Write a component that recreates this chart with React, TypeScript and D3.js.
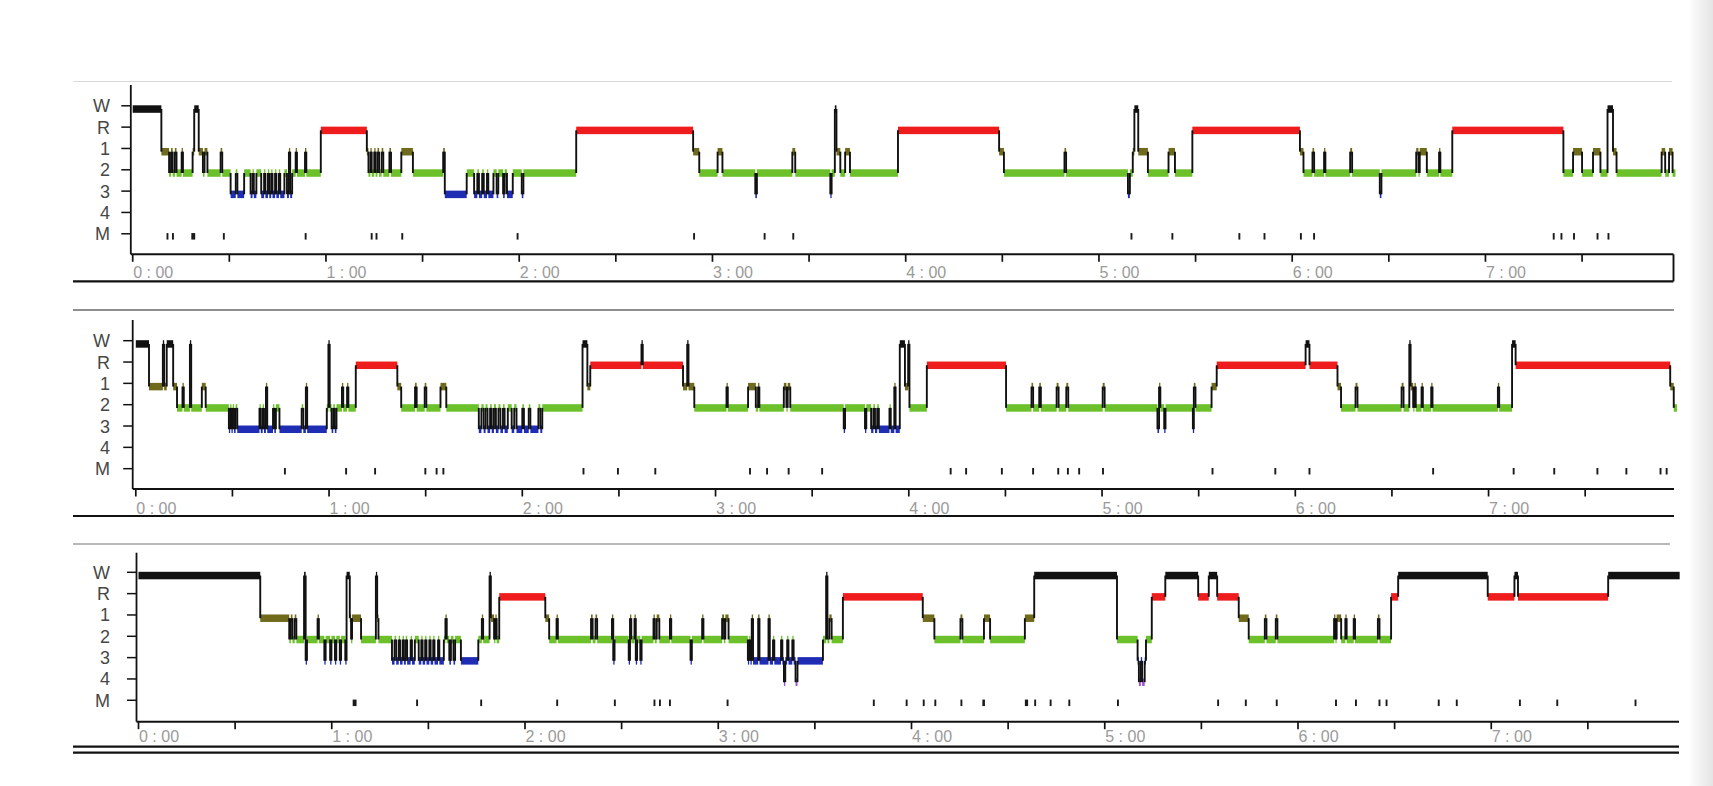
import React from "react";
import * as d3 from "d3";

type Pt = [number, string];
type Mv = [number, number];

const STAGE_LABELS = ["W", "R", "1", "2", "3", "4", "M"];
const STAGE_COLORS: Record<string, string> = {
  W: "#111111",
  R: "#ee1c1c",
  "1": "#6f6a1c",
  "2": "#6cc12a",
  "3": "#1e2db4",
  "4": "#9a4fd6",
};
const TICK_MINUTES = [0, 30, 60, 90, 120, 150, 180, 210, 240, 270, 300, 330, 360, 390, 420, 450, 480];
const HOUR_MINUTES = [0, 60, 120, 180, 240, 300, 360, 420];
const HOUR_LABELS = ["0 : 00", "1 : 00", "2 : 00", "3 : 00", "4 : 00", "5 : 00", "6 : 00", "7 : 00"];

// ---- Night 1 ----
const hypno1: Pt[] = [
  [0, "W"], [8.9, "1"], [11.3, "2"], [11.9, "1"], [12.4, "2"], [13.1, "1"], [13.6, "2"], [15.2, "1"], [15.6, "2"],
  [18.6, "1"], [19.1, "W"], [20.5, "1"], [21.8, "2"], [22.3, "1"], [23.2, "2"], [27.3, "1"], [27.8, "2"],
  [30.4, "3"], [32.0, "2"], [32.5, "3"], [34.6, "2"], [36.6, "3"], [37.2, "2"], [37.6, "3"], [38.4, "2"],
  [39.9, "3"], [40.8, "2"], [41.2, "3"], [42.0, "2"], [42.4, "3"], [43.0, "2"], [43.4, "3"], [44.2, "2"],
  [44.6, "3"], [45.4, "2"], [45.8, "3"], [47.1, "2"], [47.9, "3"], [48.5, "1"], [48.9, "3"], [49.5, "2"],
  [50.6, "1"], [51.0, "2"], [53.5, "1"], [53.9, "2"], [58.4, "R"], [72.7, "1"], [73.2, "2"], [73.8, "1"],
  [74.2, "2"], [75.0, "1"], [75.4, "2"], [76.0, "1"], [76.5, "2"], [77.3, "1"], [77.8, "2"], [79.7, "1"],
  [80.2, "2"], [83.4, "1"], [87.0, "2"], [96.4, "1"], [96.9, "3"], [103.7, "2"], [106.0, "3"], [107.0, "2"],
  [107.5, "3"], [108.5, "2"], [109.0, "3"], [110.0, "2"], [110.4, "3"], [112.0, "2"], [113.0, "3"], [113.5, "2"],
  [115.0, "3"], [115.5, "2"], [116.2, "3"], [118.0, "2"], [120.8, "3"], [121.3, "2"], [137.7, "R"], [174.0, "1"],
  [175.9, "2"], [181.6, "1"], [183.1, "2"], [193.3, "3"], [193.8, "2"], [204.8, "1"], [205.7, "2"], [216.6, "3"],
  [217.0, "2"], [218.0, "W"], [218.5, "1"], [219.7, "2"], [221.2, "1"], [222.7, "2"], [237.6, "R"], [269.0, "1"],
  [270.5, "2"], [289.3, "1"], [289.8, "2"], [309.0, "3"], [309.6, "2"], [310.5, "1"], [311.0, "W"], [312.2, "1"],
  [315.2, "2"], [321.6, "1"], [323.6, "2"], [329.0, "R"], [362.4, "1"], [363.5, "2"], [366.3, "1"], [366.8, "2"],
  [369.9, "1"], [370.3, "2"], [378.0, "1"], [378.6, "2"], [387.2, "3"], [387.7, "2"], [398.5, "1"], [399.2, "2"],
  [399.6, "1"], [401.8, "2"], [405.6, "1"], [406.0, "2"], [409.7, "R"], [444.2, "2"], [447.2, "1"], [450.0, "2"],
  [453.4, "1"], [455.7, "2"], [457.9, "W"], [459.6, "1"], [460.7, "2"], [474.7, "1"], [475.8, "2"], [477.0, "1"],
  [478.1, "2"],
];
const end1 = 479;
const moves1: Mv[] = [
  [10.5, 0.4], [12.2, 0.4], [18.2, 1.2], [28, 0.4], [53.4, 0.4], [73.9, 0.5], [75.4, 0.5], [83.4, 0.4],
  [119.2, 0.4], [174, 0.4], [195.9, 0.4], [204.8, 0.4], [309.8, 0.4], [322.5, 0.4], [343.3, 0.4], [351.1, 0.4],
  [362.4, 0.4], [366.5, 0.4], [440.9, 0.4], [443.3, 0.4], [447.2, 0.4], [454.5, 0.4], [457.9, 0.4],
];

// ---- Night 2 ----
const hypno2: Pt[] = [
  [0, "W"], [4.1, "1"], [8.4, "W"], [8.8, "1"], [9.6, "W"], [11.6, "1"], [12.8, "2"], [14.5, "1"], [14.9, "2"],
  [16.8, "W"], [17.2, "2"], [20.5, "1"], [21.7, "2"], [28.9, "3"], [29.3, "2"], [29.7, "3"], [30.1, "2"],
  [30.5, "3"], [31.0, "2"], [31.5, "3"], [38.4, "2"], [38.8, "3"], [39.4, "2"], [39.8, "3"], [40.4, "1"],
  [40.8, "3"], [42.6, "2"], [43.0, "3"], [43.5, "2"], [44.6, "3"], [51.5, "2"], [52.0, "3"], [52.8, "1"],
  [53.2, "3"], [59.3, "2"], [59.8, "W"], [60.2, "2"], [60.8, "3"], [61.3, "2"], [61.8, "3"], [62.3, "2"],
  [64.0, "1"], [64.4, "2"], [65.6, "1"], [66.0, "2"], [68.3, "R"], [81.2, "1"], [82.4, "2"], [86.7, "1"],
  [87.2, "2"], [89.7, "1"], [90.2, "2"], [94.6, "1"], [96.4, "2"], [106.5, "3"], [107.3, "2"], [108.0, "3"],
  [108.6, "2"], [109.2, "3"], [110.0, "2"], [110.5, "3"], [111.2, "2"], [111.8, "3"], [112.6, "2"], [113.2, "3"],
  [114.0, "2"], [114.5, "3"], [115.5, "2"], [116.7, "3"], [117.5, "2"], [118.2, "3"], [120.0, "2"], [120.5, "3"],
  [122.0, "2"], [122.5, "3"], [125.0, "2"], [125.6, "3"], [126.2, "2"], [138.7, "W"], [140.2, "1"], [141.1, "R"],
  [157.0, "W"], [157.4, "R"], [169.9, "1"], [171.2, "W"], [171.6, "1"], [173.4, "2"], [183.4, "1"], [183.8, "2"],
  [190.1, "1"], [192.5, "2"], [193.2, "1"], [193.6, "2"], [201.2, "1"], [202.0, "2"], [202.4, "1"], [203.2, "2"],
  [219.8, "3"], [220.2, "2"], [226.4, "3"], [226.8, "2"], [228.3, "3"], [229.0, "2"], [229.5, "3"], [230.2, "2"],
  [230.7, "3"], [234.0, "2"], [234.4, "3"], [235.5, "1"], [235.9, "3"], [237.2, "W"], [238.8, "1"], [239.8, "W"],
  [240.2, "2"], [245.6, "R"], [270.2, "2"], [278.1, "1"], [278.6, "2"], [280.5, "1"], [281.0, "2"], [285.9, "1"],
  [286.5, "2"], [288.9, "1"], [289.5, "2"], [300.2, "1"], [300.8, "2"], [317.2, "3"], [317.7, "1"], [318.1, "2"],
  [319.3, "3"], [319.7, "2"], [328.2, "3"], [328.5, "1"], [329.0, "2"], [334.0, "1"], [335.6, "R"], [363.2, "W"],
  [364.4, "R"], [373.1, "1"], [374.2, "2"], [378.7, "1"], [379.3, "2"], [393.0, "1"], [393.6, "2"], [395.4, "W"],
  [395.8, "1"], [396.6, "2"], [397.0, "1"], [397.4, "2"], [399.2, "1"], [399.6, "2"], [402.2, "1"], [402.6, "2"],
  [422.9, "1"], [423.3, "2"], [427.3, "W"], [428.4, "R"], [476.4, "1"], [477.5, "2"],
];
const end2 = 478.5;
const moves2: Mv[] = [
  [46, 0.4], [65, 0.4], [74, 0.4], [89.6, 0.4], [93.1, 0.4], [95.2, 0.4], [138.7, 0.4], [149.4, 0.4], [161, 0.4],
  [190.4, 0.4], [195.7, 0.4], [202.4, 0.4], [212.8, 0.4], [252.7, 0.4], [257.5, 0.4], [268.6, 0.4], [278.3, 0.4],
  [286.1, 0.4], [289.1, 0.4], [292.6, 0.4], [300, 0.4], [334, 0.4], [353.5, 0.4], [364.1, 0.4], [402.5, 0.4],
  [427.5, 0.4], [440.1, 0.4], [453.5, 0.4], [462.5, 0.4], [473.1, 0.4], [475, 0.4],
];

// ---- Night 3 ----
const hypno3: Pt[] = [
  [0, "W"], [37.8, "1"], [46.8, "2"], [47.3, "1"], [47.8, "2"], [48.5, "1"], [49.0, "2"], [51.4, "W"], [51.9, "3"],
  [52.3, "2"], [55.6, "1"], [56.0, "2"], [57.7, "3"], [58.1, "2"], [59.5, "3"], [59.9, "2"], [61.0, "3"], [61.4, "2"],
  [62.5, "3"], [62.9, "2"], [64.2, "3"], [64.6, "W"], [65.6, "1"], [66.0, "2"], [66.3, "1"], [69.1, "2"], [73.7, "W"],
  [74.1, "1"], [74.5, "2"], [78.7, "3"], [79.5, "2"], [80.0, "3"], [80.8, "2"], [81.2, "3"], [82.0, "2"], [82.4, "3"],
  [83.0, "2"], [83.4, "3"], [84.5, "2"], [84.9, "3"], [85.8, "2"], [87.0, "3"], [87.8, "2"], [88.2, "3"], [89.0, "2"],
  [89.4, "3"], [90.3, "2"], [90.7, "3"], [91.5, "2"], [91.9, "3"], [93.0, "2"], [93.4, "3"], [94.8, "2"], [95.3, "1"],
  [95.7, "2"], [96.5, "3"], [97.0, "2"], [97.8, "3"], [98.3, "2"], [100.1, "3"], [105.5, "2"], [106.6, "1"], [107.0, "2"],
  [109.0, "W"], [109.4, "1"], [110.4, "2"], [110.8, "1"], [111.2, "2"], [112.0, "R"], [126.3, "1"], [127.5, "2"],
  [129.8, "1"], [130.2, "2"], [140.5, "1"], [141.0, "2"], [141.9, "1"], [142.4, "2"], [147.0, "1"], [147.4, "3"],
  [147.8, "2"], [152.2, "3"], [152.6, "1"], [153.0, "2"], [154.0, "1"], [154.4, "3"], [154.8, "2"], [155.8, "3"],
  [156.2, "2"], [159.9, "1"], [160.3, "2"], [160.9, "1"], [161.7, "2"], [165.0, "1"], [165.4, "2"], [171.4, "3"],
  [171.8, "2"], [175.0, "1"], [175.4, "2"], [181.2, "1"], [181.8, "2"], [182.2, "1"], [183.2, "2"], [189.2, "3"],
  [189.6, "2"], [190.0, "3"], [190.4, "1"], [190.8, "3"], [192.4, "1"], [192.8, "3"], [195.6, "1"], [196.0, "3"],
  [197.0, "2"], [197.4, "3"], [199.5, "2"], [199.9, "3"], [200.4, "4"], [200.8, "3"], [201.4, "2"], [201.8, "3"],
  [203.0, "2"], [203.4, "3"], [204.0, "4"], [204.6, "3"], [212.5, "2"], [213.5, "W"], [213.9, "2"], [214.5, "1"],
  [215.2, "2"], [218.7, "R"], [243.5, "1"], [247.1, "2"], [255.2, "1"], [255.8, "2"], [262.5, "1"], [264.4, "2"],
  [275.2, "1"], [278.1, "W"], [303.8, "2"], [310.2, "3"], [310.6, "4"], [311.2, "3"], [311.6, "4"], [312.4, "3"],
  [312.8, "2"], [314.6, "R"], [318.8, "W"], [329.0, "R"], [332.3, "W"], [334.9, "R"], [341.6, "1"], [344.7, "2"],
  [349.7, "1"], [350.2, "2"], [353.1, "1"], [353.6, "2"], [371.2, "1"], [371.6, "2"], [372.0, "1"], [373.4, "2"],
  [374.7, "1"], [375.1, "2"], [377.3, "1"], [377.7, "2"], [384.8, "1"], [385.3, "2"], [388.9, "R"], [391.1, "W"],
  [418.9, "R"], [427.2, "W"], [428.3, "R"], [456.3, "W"],
];
const end3 = 478.5;
const moves3: Mv[] = [
  [66.5, 1.2], [86.2, 0.4], [106.1, 0.4], [129.7, 0.4], [147.6, 0.4], [159.9, 0.4], [161.6, 0.4], [164.7, 0.4],
  [182.6, 0.4], [228, 0.4], [238.2, 0.4], [243.5, 0.4], [247.1, 0.4], [255.2, 0.4], [262, 0.8], [275.2, 1.0],
  [278.1, 0.4], [282.9, 0.4], [288.7, 0.4], [303.8, 0.4], [334.9, 0.4], [343.5, 0.4], [353.1, 0.4], [371.5, 0.4],
  [377.7, 0.4], [385, 0.4], [387.2, 0.4], [403.4, 0.4], [409, 0.4], [428.6, 0.4], [440.2, 0.4], [464.5, 0.4],
];

const NIGHTS = [
  { hyp: hypno1, end: end1, moves: moves1 },
  { hyp: hypno2, end: end2, moves: moves2 },
  { hyp: hypno3, end: end3, moves: moves3 },
];

const GEOM = [
  { x0: 132.7, axisX: 130.8, yW: 105.8, axisY: 254.3, yTop: 85, labelY: 278.3, xEnd: 1673.5,
    top: { y: 81.5, x1: 73, x2: 1672, stroke: "#dadada", w: 1 }, bottoms: [281.3], box: true },
  { x0: 135.8, axisX: 132.7, yW: 340.7, axisY: 489, yTop: 320, labelY: 513.5, xEnd: 1674,
    top: { y: 310, x1: 73, x2: 1674, stroke: "#8e8e8e", w: 2 }, bottoms: [516], box: false },
  { x0: 138.5, axisX: 136.5, yW: 572.3, axisY: 721.7, yTop: 552.7, labelY: 742, xEnd: 1679,
    top: { y: 544, x1: 73, x2: 1670, stroke: "#a0a0a0", w: 1.5 }, bottoms: [746.7, 752.7], box: false },
];

const ROW = 21.33;
const WIDTH = 1713;
const HEIGHT = 786;
const FONT = "'Liberation Sans', Arial, sans-serif";

function Panel({ night, g }: { night: typeof NIGHTS[number]; g: typeof GEOM[number] }) {
  const x = d3.scaleLinear().domain([0, 480]).range([g.x0, g.x0 + 1546]);
  const y = d3.scalePoint<string>().domain(STAGE_LABELS).range([g.yW, g.yW + ROW * 6]);
  const segs = night.hyp.map((p, i) => ({
    start: p[0],
    end: i < night.hyp.length - 1 ? night.hyp[i + 1][0] : night.end,
    stage: p[1],
  }));
  const barTop = (s: string) => (y(s) as number) - 0.5;
  const barMid = (s: string) => (y(s) as number) + 3.2;
  return (
    <g>
      <line x1={g.top.x1} x2={g.top.x2} y1={g.top.y} y2={g.top.y} stroke={g.top.stroke} strokeWidth={g.top.w} />
      {/* y axis */}
      <line x1={g.axisX} x2={g.axisX} y1={g.yTop} y2={g.axisY} stroke="#111" strokeWidth={1.8} />
      {STAGE_LABELS.map((s) => (
        <g key={s}>
          <line x1={g.axisX - 9.5} x2={g.axisX} y1={y(s)} y2={y(s)} stroke="#111" strokeWidth={1.5} />
          <text x={110} y={(y(s) as number) + 6.5} textAnchor="end" fontSize={18}
            fontFamily={FONT} fill="#474747">{s}</text>
        </g>
      ))}
      {/* x axis */}
      <line x1={g.axisX} x2={g.xEnd} y1={g.axisY} y2={g.axisY} stroke="#111" strokeWidth={1.9} />
      {TICK_MINUTES.filter((m) => x(m) <= g.xEnd).map((m) => (
        <line key={m} x1={x(m)} x2={x(m)} y1={g.axisY} y2={g.axisY + 7.5} stroke="#111" strokeWidth={1.7} />
      ))}
      {HOUR_MINUTES.map((m, i) => (
        <text key={m} x={x(m) + 0.5} y={g.labelY} fontSize={16}
          fontFamily={FONT} fill="#9a9a9a">{HOUR_LABELS[i]}</text>
      ))}
      {g.bottoms.map((b, i) => (
        <line key={i} x1={73} x2={g.xEnd} y1={b} y2={b} stroke="#111" strokeWidth={2.2} />
      ))}
      {g.box && (
        <line x1={g.xEnd} x2={g.xEnd} y1={g.axisY} y2={g.bottoms[0]} stroke="#111" strokeWidth={1.9} />
      )}
      {/* stage bars */}
      {segs.map((s, i) => (
        <rect key={"b" + i} x={x(s.start)} width={Math.max(1.3, x(s.end) - x(s.start))}
          y={barTop(s.stage)} height={7.5} fill={STAGE_COLORS[s.stage]} />
      ))}
      {/* transitions */}
      {segs.slice(1).map((s, i) => (
        <line key={"t" + i} x1={x(s.start)} x2={x(s.start)} y1={barMid(segs[i].stage)} y2={barMid(s.stage)}
          stroke="#111" strokeWidth={1.9} />
      ))}
      {/* movement markers */}
      {night.moves.map((m, i) => (
        <rect key={"m" + i} x={x(m[0])} width={Math.max(1.9, x(m[0] + m[1]) - x(m[0]))}
          y={(y("M") as number) - 0.7} height={6.5} fill="#1a1a1a" />
      ))}
    </g>
  );
}

export default function App() {
  return (
    <div style={{ position: "fixed", left: 0, top: 0, width: WIDTH, height: HEIGHT, background: "#fff" }}>
      <svg width={WIDTH} height={HEIGHT} viewBox={`0 0 ${WIDTH} ${HEIGHT}`}>
        <defs>
          <linearGradient id="edge" x1="0" x2="1" y1="0" y2="0">
            <stop offset="0" stopColor="#ffffff" />
            <stop offset="1" stopColor="#e4e4e4" />
          </linearGradient>
        </defs>
        <rect x={0} y={0} width={WIDTH} height={HEIGHT} fill="#fff" />
        <rect x={1688} y={0} width={25} height={HEIGHT} fill="url(#edge)" />
        {NIGHTS.map((n, i) => (
          <Panel key={i} night={n} g={GEOM[i]} />
        ))}
      </svg>
    </div>
  );
}
